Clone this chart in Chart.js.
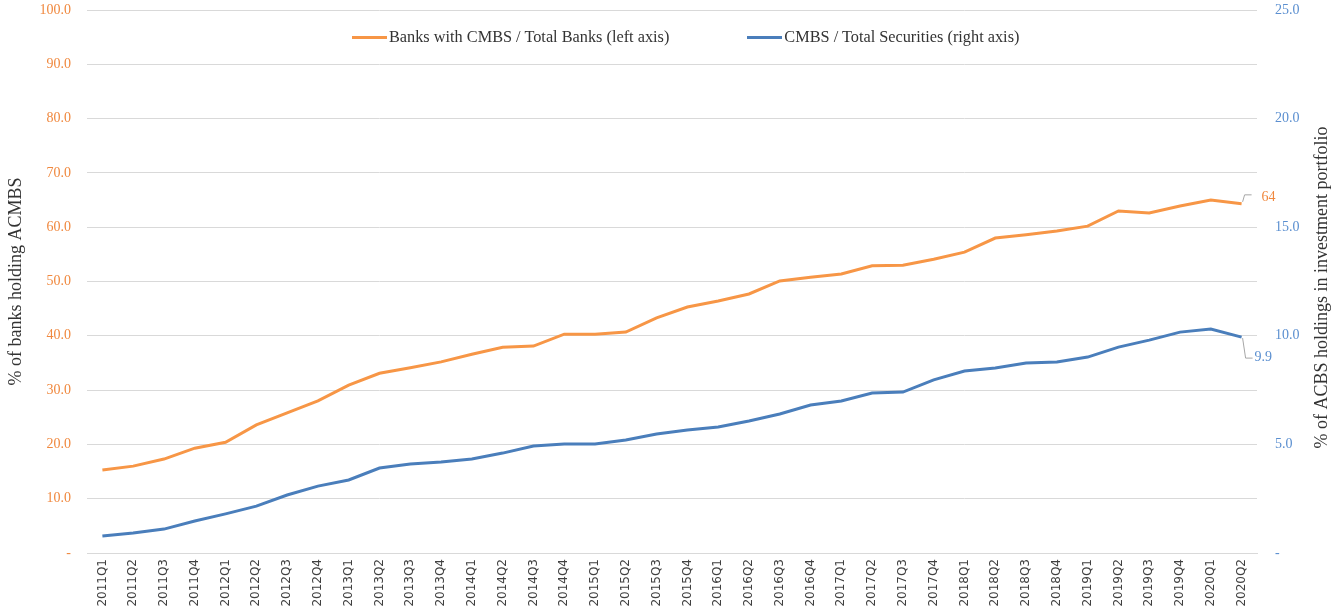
<!DOCTYPE html>
<html>
<head>
<meta charset="utf-8">
<script src="https://cdn.jsdelivr.net/npm/chart.js@4/dist/chart.umd.min.js"></script>
<style>
  body { margin: 0; background: #fff; }
  #wrap { position: relative; width: 1333px; height: 615px; }
  #legend {
    position: absolute; top: 27px; left: 352px;
    display: flex; align-items: center;
    font-family: "Liberation Serif", serif; font-size: 16.3px; color: #333;
  }
  .item { display: flex; align-items: center; }
  .swatch { width: 35px; height: 3px; margin-right: 2px; }
</style>
</head>
<body>
<div id="wrap">
  <canvas id="chart" width="1333" height="615"></canvas>
  <div id="legend">
    <div class="item"><span class="swatch" style="background:#F79646"></span>Banks with CMBS / Total Banks (left axis)</div>
    <div class="item" style="margin-left:78px"><span class="swatch" style="background:#4A7EBB"></span>CMBS / Total Securities (right axis)</div>
  </div>
</div>
<script>
// Quarters shown on the x axis
const quarters = [
  "2011Q1","2011Q2","2011Q3","2011Q4","2012Q1","2012Q2","2012Q3","2012Q4",
  "2013Q1","2013Q2","2013Q3","2013Q4","2014Q1","2014Q2","2014Q3","2014Q4",
  "2015Q1","2015Q2","2015Q3","2015Q4","2016Q1","2016Q2","2016Q3","2016Q4",
  "2017Q1","2017Q2","2017Q3","2017Q4","2018Q1","2018Q2","2018Q3","2018Q4",
  "2019Q1","2019Q2","2019Q3","2019Q4","2020Q1","2020Q2"
];

// Banks with CMBS / Total Banks (left axis, %)
const banksShare = [
  15.3, 16.0, 17.3, 19.3, 20.4, 23.6, 25.8, 28.0,
  30.9, 33.1, 34.1, 35.2, 36.6, 37.9, 38.1, 40.3,
  40.3, 40.7, 43.3, 45.3, 46.4, 47.7, 50.1, 50.8,
  51.4, 52.9, 53.0, 54.1, 55.4, 58.0, 58.6, 59.3,
  60.2, 63.0, 62.6, 63.9, 65.0, 64.3
];

// CMBS / Total Securities (right axis, %)
const cmbsShare = [
  0.78, 0.92, 1.10, 1.47, 1.80, 2.16, 2.67, 3.08,
  3.36, 3.91, 4.10, 4.19, 4.33, 4.60, 4.93, 5.02,
  5.02, 5.20, 5.48, 5.66, 5.80, 6.08, 6.40, 6.81,
  7.00, 7.37, 7.41, 7.97, 8.38, 8.52, 8.75, 8.79,
  9.02, 9.48, 9.80, 10.17, 10.31, 9.94
];

// Labels printed next to the last points
const lastLabels = ["64", "9.9"];
const rightTitle = "% of ACBS holdings in investment portfolio";

const orange = "#F79646";
const blue = "#4A7EBB";
const serif = "'Liberation Serif', serif";

// Draws the last-point labels with little leader lines, and the right axis title
const extras = {
  id: "extras",
  afterDatasetsDraw(chart) {
    const ctx = chart.ctx;
    ctx.save();
    ctx.font = "14px " + serif;
    ctx.textBaseline = "middle";
    ctx.strokeStyle = "#a6a6a6";
    ctx.lineWidth = 1;
    // orange label sits above-right
    let p = chart.getDatasetMeta(0).data[quarters.length - 1];
    ctx.beginPath();
    ctx.moveTo(p.x + 1, p.y - 2);
    ctx.lineTo(p.x + 3, p.y - 9);
    ctx.lineTo(p.x + 10, p.y - 9);
    ctx.stroke();
    ctx.fillStyle = "#F0883E";
    ctx.fillText(lastLabels[0], p.x + 20, p.y - 7);
    // blue label sits below-right
    p = chart.getDatasetMeta(1).data[quarters.length - 1];
    ctx.beginPath();
    ctx.moveTo(p.x + 1, p.y + 1);
    ctx.lineTo(p.x + 4, p.y + 21);
    ctx.lineTo(p.x + 11, p.y + 21);
    ctx.stroke();
    ctx.fillStyle = "#5B8FD0";
    ctx.fillText(lastLabels[1], p.x + 13, p.y + 20);

    // right axis title, reading bottom to top
    const area = chart.chartArea;
    ctx.translate(1322, (area.top + area.bottom) / 2 + 6);
    ctx.rotate(-Math.PI / 2);
    ctx.font = "18px " + serif;
    ctx.fillStyle = "#333";
    ctx.textAlign = "center";
    ctx.fillText(rightTitle, 0, 0);
    ctx.restore();
  }
};

// keep the axes from reserving extra room above the plot
function fixWidth(w) {
  return s => {
    s.width = w;
    s.paddingTop = 0;
    s.paddingBottom = 0;
  };
}

const ctx = document.getElementById("chart").getContext("2d");
const chart = new Chart(ctx, {
  type: "line",
  data: {
    labels: quarters,
    datasets: [
      {
        label: "Banks with CMBS / Total Banks (left axis)",
        data: banksShare,
        borderColor: orange,
        borderWidth: 3,
        pointRadius: 0,
        tension: 0,
        yAxisID: "y"
      },
      {
        label: "CMBS / Total Securities (right axis)",
        data: cmbsShare,
        borderColor: blue,
        borderWidth: 3,
        pointRadius: 0,
        tension: 0,
        yAxisID: "y1"
      }
    ]
  },
  options: {
    responsive: false,
    animation: false,
    layout: { padding: { top: 10 } },
    plugins: {
      legend: { display: false },
      tooltip: { enabled: false }
    },
    scales: {
      x: {
        offset: true,
        grid: { display: false, drawTicks: false },
        border: { color: "#d9d9d9" },
        ticks: {
          minRotation: 90, maxRotation: 90, autoSkip: false, padding: 6,
          color: "#404040", font: { family: "'DejaVu Sans', sans-serif", size: 12 }
        },
        afterFit: s => { s.height = 62; s.paddingLeft = 0; s.paddingRight = 0; }
      },
      y: {
        position: "left",
        min: 0, max: 100,
        grid: { color: "#d9d9d9", drawTicks: false },
        border: { display: false },
        ticks: {
          stepSize: 10, padding: 16, color: "#F0883E",
          font: { family: serif, size: 14 },
          callback: v => v === 0 ? "-" : v.toFixed(1)
        },
        title: {
          display: true, text: "% of banks holding ACMBS", color: "#333",
          font: { family: serif, size: 18 }, padding: { top: 5, bottom: 0 }
        },
        afterFit: fixWidth(87)
      },
      y1: {
        position: "right",
        min: 0, max: 25,
        grid: { display: false, drawTicks: false },
        border: { display: false },
        ticks: {
          stepSize: 5, padding: 18, color: "#5B8FD0",
          font: { family: serif, size: 14 },
          callback: v => v === 0 ? "-" : v.toFixed(1)
        },
        afterFit: fixWidth(76)
      }
    }
  },
  plugins: [extras]
});
</script>
</body>
</html>
